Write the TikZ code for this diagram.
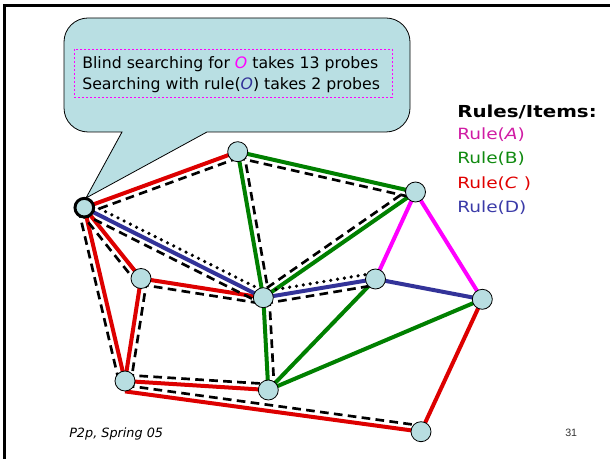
\documentclass[tikz,border=0pt]{standalone}
\usepackage{fontspec}
\setmainfont{DejaVu Sans}
\newfontfamily\legendfont[FakeStretch=1.2]{DejaVu Sans}
\newfontfamily\pagefont{Liberation Sans}
\usetikzlibrary{calc}

\definecolor{peerfill}{HTML}{B8DEE1}
\definecolor{calloutfill}{HTML}{B9DFE3}
\definecolor{lineA}{HTML}{FF00FF}
\definecolor{lineB}{HTML}{008000}
\definecolor{lineC}{HTML}{DD0000}
\definecolor{lineD}{HTML}{333399}
\definecolor{textA}{HTML}{D01CA4}
\definecolor{textB}{HTML}{108A10}
\definecolor{textC}{HTML}{E00000}
\definecolor{textD}{HTML}{3B3BA8}
\definecolor{pagegray}{HTML}{333333}

\pgfdeclarelayer{links}
\pgfsetlayers{links,main}

% strokes running parallel to the link #2 -- #3, on its right / left side
\newcommand\probeR[3]{\draw[#1] ($(#2)!4.5pt!-90:(#3)$) -- ($(#3)!4.5pt!90:(#2)$);}
\newcommand\probeL[3]{\draw[#1] ($(#2)!4.5pt!90:(#3)$) -- ($(#3)!4.5pt!-90:(#2)$);}

\begin{document}
\begin{tikzpicture}[x=0.75pt,y=-0.75pt,
  peer/.style={circle, draw=black, line width=0.6pt, fill=peerfill,
               minimum size=15pt, inner sep=0pt},
  source/.style={peer, line width=2.2pt, minimum size=14pt},
  ruleA/.style={draw=lineA, line width=3pt},
  ruleB/.style={draw=lineB, line width=3pt},
  ruleC/.style={draw=lineC, line width=3pt},
  ruleD/.style={draw=lineD, line width=3pt},
  probe/.style={draw=black, line width=2pt, dash pattern=on 6.5pt off 4pt},
  hop/.style={draw=black, line width=2.7pt, dash pattern=on 0pt off 5.2pt, line cap=round},
  note/.style={anchor=base west, inner sep=0pt, font=\fontsize{11.8}{14}\selectfont},
  legend/.style={anchor=base west, inner sep=0pt, font=\legendfont\fontsize{11.6}{14}\selectfont},
]
\useasboundingbox (0,0) rectangle (610,459);

% slide frame
\draw[line width=2pt] (4.7,459) -- (4.7,5.3) -- (610,5.3);

% speech balloon
\path[draw=black, line width=0.6pt, fill=calloutfill]
  (207,132) [rounded corners=18pt] -- (410,132) -- (410,18) -- (64,18) -- (64,132)
  [sharp corners] -- (122,132) -- (86,198) -- cycle;
\node[draw=lineA, line width=0.6pt, dash pattern=on 1.5pt off 1.5pt,
      minimum width=238.5pt, minimum height=36pt, inner sep=0pt, anchor=north west]
  (frame) at (74,49) {};
\node[note] (l1) at (82,68.5)
  {Blind searching for {\color{lineA}\itshape O} takes 13 probes};
\node[note] (l2) at (82,90)
  {Searching with rule({\color{lineD}\itshape O}) takes 2 probes};

% legend
\node[legend, font=\legendfont\bfseries\fontsize{12.4}{14}\selectfont] (lt) at (457,118) {Rules/Items:};
\node[legend, text=textA] (la) at (457,140) {Rule(\textit{A})};
\node[legend, text=textB] (lb) at (457,164) {Rule(B)};
\node[legend, text=textC] (lc) at (457,188.5) {Rule(\textit{C} )};
\node[legend, text=textD] (ld) at (457,212.5) {Rule(D)};

% footer
\node[anchor=base west, inner sep=0pt, font=\fontsize{9.6}{11}\selectfont\itshape]
  (foot) at (69,437.3) {P2p, Spring 05};
\node[anchor=base west, inner sep=0pt, text=pagegray, font=\pagefont\fontsize{8}{10}\selectfont]
  (page) at (565,436.7) {31};

% peers
\node[source] (O) at (84.3,207.7) {};
\node[peer] (A) at (237.7,151.7) {};
\node[peer] (B) at (415.5,192) {};
\node[peer] (C) at (141,278.5) {};
\node[peer] (D) at (263.3,297.7) {};
\node[peer] (E) at (375.5,279) {};
\node[peer] (F) at (482.3,299.3) {};
\node[peer] (G) at (125,381) {};
\node[peer] (H) at (268.3,390) {};
\node[peer] (I) at (421,431.7) {};

\begin{pgfonlayer}{links}
  % links labelled by the rule they carry
  \draw[ruleC] (O.center) -- (A.center);
  \draw[ruleC] (O.center) -- (C.center);
  \draw[ruleC] (O.center) -- (G.center);
  \draw[ruleC] (C.center) -- (D.center);
  \draw[ruleC] (C.center) -- (G.center);
  \draw[ruleC] (G.center) -- (H.center);
  \draw[ruleC] (G.south) -- (I.center);
  \draw[ruleC] (F.center) -- (I.center);
  \draw[ruleB] (A.center) -- (B.center);
  \draw[ruleB] (A.center) -- (D.center);
  \draw[ruleB] (B.center) -- (D.center);
  \draw[ruleB] (D.center) -- (H.center);
  \draw[ruleB] (H.center) -- (E.center);
  \draw[ruleB] (H.center) -- (F.center);
  \draw[ruleA] (B.center) -- (E.center);
  \draw[ruleA] (B.center) -- (F.center);
  \draw[ruleD] (O.center) -- (D.center);
  \draw[ruleD] (D.center) -- (E.center);
  \draw[ruleD] (E.center) -- (F.center);

  % blind search probes
  \probeR{probe}{O}{A}
  \probeR{probe}{A}{B}
  \probeR{probe}{B}{D}
  \probeR{probe}{D}{E}
  \probeR{probe}{O}{D}
  \probeR{probe}{O}{C}
  \probeR{probe}{C}{D}
  \probeR{probe}{O}{G}
  \probeL{probe}{A}{D}
  \probeL{probe}{C}{G}
  \probeL{probe}{D}{H}
  \probeL{probe}{G}{H}
  \probeL{probe}{G.south}{I}

  % rule guided search
  \probeL{hop}{O}{D}
  \probeL{hop}{D}{E}
\end{pgfonlayer}
\end{tikzpicture}
\end{document}
